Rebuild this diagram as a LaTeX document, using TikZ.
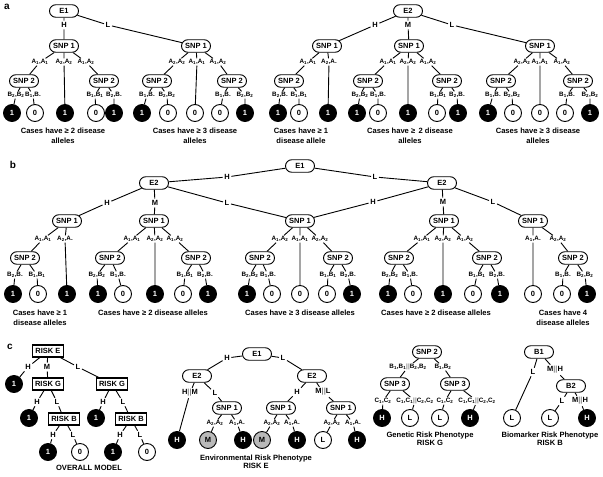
\documentclass[tikz,border=0pt]{standalone}
\usepackage{fontspec}
\setmainfont{Liberation Sans}
\usetikzlibrary{shapes.misc}
\newcommand{\gty}[3]{#1\textsubscript{#2},#1\textsubscript{#3}}
\newcommand{\gtd}[2]{#1\textsubscript{#2},#1.}
\newcommand{\dbar}{{\color{gray}\textbar\textbar}}
\begin{document}
\begin{tikzpicture}[
  x=1pt, y=-1pt,
  every node/.style={font=\bfseries\fontsize{7.5}{8}\selectfont, inner sep=1pt},
  rnd/.style={rounded rectangle, draw, line width=0.9pt, minimum width=31pt,
              minimum height=12.5pt, inner sep=1pt},
  riskbox/.style={rectangle, draw, line width=1.3pt, minimum width=31pt,
                  minimum height=12pt, inner sep=1pt},
  leaf/.style={circle, draw, line width=0.9pt, minimum size=17pt, inner sep=0pt},
  blk/.style={leaf, fill=black, text=white},
  wht/.style={leaf, fill=white},
  gry/.style={leaf, fill=gray!55},
  lab/.style={font=\bfseries\fontsize{6.3}{7}\selectfont, inner sep=0.8pt},
  elab/.style={inner sep=1.5pt},
  edge/.style={line width=0.9pt},
  note/.style={align=center, inner sep=0pt, font=\bfseries\fontsize{7.6}{10}\selectfont},
  notec/.style={note, font=\bfseries\fontsize{7.6}{8.5}\selectfont},
  panel/.style={font=\bfseries\fontsize{10}{12}\selectfont, inner sep=0pt}]
\useasboundingbox (0,0) rectangle (603,477);

%% ---------------- panel a ----------------
\node[panel] (pa) at (7,7) {a};
\node[rnd] (aE1) at (64,11)  {E1};
\node[rnd] (eE2) at (408,11) {E2};
\node[elab] (aH1) at (64,25)  {H};
\node[elab] (aL1) at (108,25) {L};
\node[elab] (eH)  at (375,25) {H};
\node[elab] (eM)  at (408,25) {M};
\node[elab] (eL)  at (452,25) {L};

\foreach \nm/\xx in {aS1/64,aS2/196,eS1/327,eS2/409,eS3/540}
  \node[rnd] (\nm) at (\xx,46) {SNP 1};
\foreach \nm/\xx in {aT1/24,aT2/104,aT3/157,aT4/232,eT1/289,eT2/368,eT3/447,eT4/501,eT5/578}
  \node[rnd] (\nm) at (\xx,81) {SNP 2};

\foreach \nm/\xx/\tx in {ag1/40/\gty{A}{1}{1}, ag2/64/\gty{A}{2}{2}, ag3/86/\gty{A}{1}{2},
    ag4/177/\gty{A}{2}{2}, ag5/197/\gty{A}{1}{1}, ag6/218/\gty{A}{1}{2},
    eg1/308/\gty{A}{1}{1}, eg2/329/\gtd{A}{2},
    eg3/388/\gty{A}{1}{1}, eg4/408/\gty{A}{2}{2}, eg5/428/\gty{A}{1}{2},
    eg6/522/\gty{A}{2}{2}, eg7/540/\gty{A}{1}{1}, eg8/562/\gty{A}{1}{2}}
  \node[lab] (\nm) at (\xx,62) {\tx};
\foreach \nm/\xx/\tx in {ab1/16/\gty{B}{2}{2}, ab2/33/\gtd{B}{1}, ab3/95/\gty{B}{1}{1}, ab4/114/\gtd{B}{2},
    ab5/147/\gtd{B}{1}, ab6/167/\gty{B}{2}{2}, ab7/223/\gtd{B}{1}, ab8/245/\gty{B}{2}{2},
    eb1/280/\gtd{B}{2}, eb2/299/\gty{B}{1}{1},
    eb3/360/\gty{B}{2}{2}, eb4/378/\gtd{B}{1}, eb5/438/\gty{B}{1}{1}, eb6/457/\gtd{B}{2},
    eb7/493/\gtd{B}{1}, eb8/512/\gty{B}{2}{2}, eb9/567/\gtd{B}{1}, eb10/590/\gty{B}{2}{2}}
  \node[lab] (\nm) at (\xx,95) {\tx};
\foreach \nm/\xx/\st/\tx in {av1/12/blk/1, av2/35/wht/0, av3/65/blk/1, av4/96/wht/0, av5/114/blk/1,
    av6/142/blk/1, av7/168/wht/0, av8/195/wht/0, av9/220/wht/0, av10/245/blk/1,
    ev1/278/blk/1, ev2/299/wht/0, ev3/328/blk/1,
    ev4/357/blk/1, ev5/378/wht/0, ev6/408/blk/1, ev7/437/wht/0, ev8/458/blk/1,
    ev9/488/blk/1, ev10/513/wht/0, ev11/540/wht/0, ev12/565/wht/0, ev13/590/blk/1}
  \node[\st] (\nm) at (\xx,113) {\tx};

\foreach \pa/\la/\ch in {aE1/aH1/aS1, aE1/aL1/aS2,
    aS1/ag1/aT1, aS1/ag2/av3, aS1/ag3/aT2,
    aT1/ab1/av1, aT1/ab2/av2, aT2/ab3/av4, aT2/ab4/av5,
    aS2/ag4/aT3, aS2/ag5/av8, aS2/ag6/aT4,
    aT3/ab5/av6, aT3/ab6/av7, aT4/ab7/av9, aT4/ab8/av10,
    eE2/eH/eS1, eE2/eM/eS2, eE2/eL/eS3,
    eS1/eg1/eT1, eS1/eg2/ev3, eT1/eb1/ev1, eT1/eb2/ev2,
    eS2/eg3/eT2, eS2/eg4/ev6, eS2/eg5/eT3,
    eT2/eb3/ev4, eT2/eb4/ev5, eT3/eb5/ev7, eT3/eb6/ev8,
    eS3/eg6/eT4, eS3/eg7/ev11, eS3/eg8/eT5,
    eT4/eb7/ev9, eT4/eb8/ev10, eT5/eb9/ev12, eT5/eb10/ev13}
  \draw[edge] (\pa) -- (\la) -- (\ch);

\node[note] (an1) at (63,136)  {Cases have ≥ 2 disease\\alleles};
\node[note] (an2) at (195,136) {Cases have ≥ 3 disease\\alleles};
\node[note] (an3) at (301,136) {Cases have ≥ 1\\disease allele};
\node[note] (an4) at (410,136) {Cases have ≥\, 2 disease\\alleles};
\node[note] (an5) at (538,136) {Cases have ≥ 3 disease\\alleles};

%% ---------------- panel b ----------------
\node[panel] (pb) at (13,165) {b};
\node[rnd] (bE1) at (300,166) {E1};
\node[rnd] (bX1) at (154,183) {E2};
\node[rnd] (bX2) at (442,183) {E2};
\foreach \nm/\xx/\yy/\tx in {bH0/227/177/H, bL0/375/177/L,
    bH1/107/203/H, bM1/155/203/M, bL1/227/203/L,
    bH2/373/202/H, bM2/443/202/M, bL2/493/202/L}
  \node[elab] (\nm) at (\xx,\yy) {\tx};

\foreach \nm/\xx in {bS1/67,bS2/154,bS3/300,bS4/444,bS5/533}
  \node[rnd] (\nm) at (\xx,221) {SNP 1};
\foreach \nm/\xx in {bT1/25,bT2/110,bT3/196,bT4/260,bT5/338,bT6/399,bT7/487,bT8/573}
  \node[rnd] (\nm) at (\xx,258) {SNP 2};

\foreach \nm/\xx/\tx in {bg1/43/\gty{A}{1}{1}, bg2/65/\gtd{A}{2},
    bg3/132/\gty{A}{1}{1}, bg4/155/\gty{A}{2}{2}, bg5/175/\gty{A}{1}{2},
    bg6/280/\gty{A}{1}{2}, bg7/300/\gty{A}{1}{1}, bg8/320/\gty{A}{2}{2},
    bg9/422/\gty{A}{1}{1}, bg10/443/\gty{A}{2}{2}, bg11/465/\gty{A}{1}{2},
    bg12/533/\gtd{A}{1}, bg13/558/\gty{A}{2}{2}}
  \node[lab] (\nm) at (\xx,239) {\tx};
\foreach \nm/\xx/\tx in {bb1/15/\gtd{B}{2}, bb2/37/\gty{B}{1}{1},
    bb3/97/\gty{B}{2}{2}, bb4/118/\gtd{B}{1}, bb5/185/\gty{B}{1}{1}, bb6/205/\gtd{B}{2},
    bb7/250/\gty{B}{2}{2}, bb8/268/\gtd{B}{1}, bb9/328/\gty{B}{1}{1}, bb10/348/\gtd{B}{2},
    bb11/390/\gty{B}{2}{2}, bb12/410/\gtd{B}{1}, bb13/477/\gty{B}{1}{1}, bb14/497/\gtd{B}{2},
    bb15/563/\gtd{B}{1}, bb16/585/\gty{B}{2}{2}}
  \node[lab] (\nm) at (\xx,275) {\tx};
\foreach \nm/\xx/\st/\tx in {bv1/13/blk/1, bv2/38/wht/0, bv3/67/blk/1,
    bv4/98/blk/1, bv5/123/wht/0, bv6/155/blk/1, bv7/183/wht/0, bv8/208/blk/1,
    bv9/247/blk/1, bv10/272/wht/0, bv11/300/wht/0, bv12/327/wht/0, bv13/352/blk/1,
    bv14/388/blk/1, bv15/413/wht/0, bv16/443/blk/1, bv17/473/wht/0, bv18/500/blk/1,
    bv19/533/wht/0, bv20/562/wht/0, bv21/587/blk/1}
  \node[\st] (\nm) at (\xx,294) {\tx};

\foreach \pa/\la/\ch in {bE1/bH0/bX1, bE1/bL0/bX2,
    bX1/bH1/bS1, bX1/bM1/bS2, bX1/bL1/bS3, bX2/bH2/bS3, bX2/bM2/bS4, bX2/bL2/bS5,
    bS1/bg1/bT1, bS1/bg2/bv3, bT1/bb1/bv1, bT1/bb2/bv2,
    bS2/bg3/bT2, bS2/bg4/bv6, bS2/bg5/bT3,
    bT2/bb3/bv4, bT2/bb4/bv5, bT3/bb5/bv7, bT3/bb6/bv8,
    bS3/bg6/bT4, bS3/bg7/bv11, bS3/bg8/bT5,
    bT4/bb7/bv9, bT4/bb8/bv10, bT5/bb9/bv12, bT5/bb10/bv13,
    bS4/bg9/bT6, bS4/bg10/bv16, bS4/bg11/bT7,
    bT6/bb11/bv14, bT6/bb12/bv15, bT7/bb13/bv17, bT7/bb14/bv18,
    bS5/bg12/bv19, bS5/bg13/bT8, bT8/bb15/bv20, bT8/bb16/bv21}
  \draw[edge] (\pa) -- (\la) -- (\ch);

\node[note] (bn1) at (40,318)  {Cases have ≥ 1\\disease alleles};
\node[note] (bn2) at (153,313) {Cases have ≥ 2 disease alleles};
\node[note] (bn3) at (300,313) {Cases have ≥ 3 disease alleles};
\node[note] (bn4) at (436,313) {Cases have ≥ 2 disease alleles};
\node[note] (bn5) at (563,318) {Cases have 4\\disease alleles};

%% ---------------- panel c ----------------
\node[panel] (pc) at (10,347) {c};

% overall model
\foreach \nm/\xx/\yy/\tx in {cR0/48/351/E, cR1/48/384/G, cR2/112/384/G, cR3/64/419/B, cR4/131/419/B}
  \node[riskbox] (\nm) at (\xx,\yy) {RISK \tx};
\foreach \nm/\xx/\yy/\tx in {cH0/28/367/H, cM0/47/367/M, cL0/78/367/L,
    cH1/37/402/H, cL1/57/402/L, cH2/103/402/H, cL2/123/402/L,
    cH3/53/435/H, cL3/73/435/L, cH4/120/435/H, cL4/140/435/L}
  \node[elab] (\nm) at (\xx,\yy) {\tx};
\foreach \nm/\xx/\yy/\st/\tx in {cv1/14/384/blk/1, cv2/29/418/blk/1, cv3/96/418/blk/1,
    cv4/48/452/blk/1, cv5/80/452/wht/0, cv6/113/452/blk/1, cv7/147/452/wht/0}
  \node[\st] (\nm) at (\xx,\yy) {\tx};
\foreach \pa/\la/\ch in {cR0/cH0/cv1, cR0/cM0/cR1, cR0/cL0/cR2,
    cR1/cH1/cv2, cR1/cL1/cR3, cR2/cH2/cv3, cR2/cL2/cR4,
    cR3/cH3/cv4, cR3/cL3/cv5, cR4/cH4/cv6, cR4/cL4/cv7}
  \draw[edge] (\pa) -- (\la) -- (\ch);
\node[note] (cn1) at (89,468) {OVERALL MODEL};

% environmental risk
\node[rnd] (cE1) at (257,354) {E1};
\node[rnd] (cE2) at (197,376) {E2};
\node[rnd] (cE3) at (312,376) {E2};
\foreach \nm/\xx in {cS1/227,cS2/281,cS3/341}
  \node[rnd] (\nm) at (\xx,408) {SNP 1};
\foreach \nm/\xx/\yy/\tx in {cH5/227/358/H, cL5/283/358/L, cHM/190/393/H\dbar M,
    cL6/215/393/L, cH6/297/392/H, cML/323/392/M\dbar L}
  \node[elab] (\nm) at (\xx,\yy) {\tx};
\foreach \nm/\xx/\tx in {cg1/215/\gty{A}{2}{2}, cg2/237/\gtd{A}{1}, cg3/272/\gty{A}{2}{2},
    cg4/292/\gtd{A}{1}, cg5/332/\gty{A}{2}{2}, cg6/353/\gtd{A}{1}}
  \node[lab] (\nm) at (\xx,423) {\tx};
\foreach \nm/\xx/\st/\tx in {cw1/177/blk/H, cw2/208/gry/M, cw3/243/blk/H, cw4/262/gry/M,
    cw5/297/blk/H, cw6/323/wht/L, cw7/357/blk/H}
  \node[\st] (\nm) at (\xx,440) {\tx};
\foreach \pa/\la/\ch in {cE1/cH5/cE2, cE1/cL5/cE3, cE2/cHM/cw1, cE2/cL6/cS1,
    cE3/cH6/cS2, cE3/cML/cS3, cS1/cg1/cw2, cS1/cg2/cw3,
    cS2/cg3/cw4, cS2/cg4/cw5, cS3/cg5/cw6, cS3/cg6/cw7}
  \draw[edge] (\pa) -- (\la) -- (\ch);
\node[notec] (cn2) at (256,462) {Environmental Risk Phenotype\\RISK E};

% genetic risk
\node[rnd] (cP2) at (427,352) {SNP 2};
\node[rnd] (cP3) at (395,384) {SNP 3};
\node[rnd] (cP4) at (455,384) {SNP 3};
\node[lab] (ch1) at (408,367) {\gty{B}{1}{1}\dbar\gty{B}{2}{2}};
\node[lab] (ch2) at (443,367) {\gty{B}{1}{2}};
\foreach \nm/\xx/\tx in {ch3/383/\gty{C}{1}{2}, ch4/415/\gty{C}{1}{1}\dbar\gty{C}{2}{2},
    ch5/445/\gty{C}{1}{2}, ch6/477/\gty{C}{1}{1}\dbar\gty{C}{2}{2}}
  \node[lab] (\nm) at (\xx,401) {\tx};
\foreach \nm/\xx/\st/\tx in {cx1/382/blk/H, cx2/410/wht/L, cx3/440/wht/L, cx4/470/blk/H}
  \node[\st] (\nm) at (\xx,418) {\tx};
\foreach \pa/\la/\ch in {cP2/ch1/cP3, cP2/ch2/cP4, cP3/ch3/cx1, cP3/ch4/cx2,
    cP4/ch5/cx3, cP4/ch6/cx4}
  \draw[edge] (\pa) -- (\la) -- (\ch);
\node[notec] (cn3) at (430,439) {Genetic Risk Phenotype\\RISK G};

% biomarker risk
\node[rnd] (cB1) at (539,352) {B1};
\node[rnd] (cB2) at (571,386) {B2};
\foreach \nm/\xx/\yy/\tx in {cL7/533/372/L, cMH/555/370/M\dbar H, cL8/562/401/L, cMH2/580/401/M\dbar H}
  \node[elab] (\nm) at (\xx,\yy) {\tx};
\foreach \nm/\xx/\st/\tx in {cy1/512/wht/L, cy2/550/wht/L, cy3/587/blk/H}
  \node[\st] (\nm) at (\xx,418) {\tx};
\foreach \pa/\la/\ch in {cB1/cL7/cy1, cB1/cMH/cB2, cB2/cL8/cy2, cB2/cMH2/cy3}
  \draw[edge] (\pa) -- (\la) -- (\ch);
\node[notec] (cn4) at (550,439) {Biomarker Risk Phenotype\\RISK B};
\end{tikzpicture}
\end{document}
